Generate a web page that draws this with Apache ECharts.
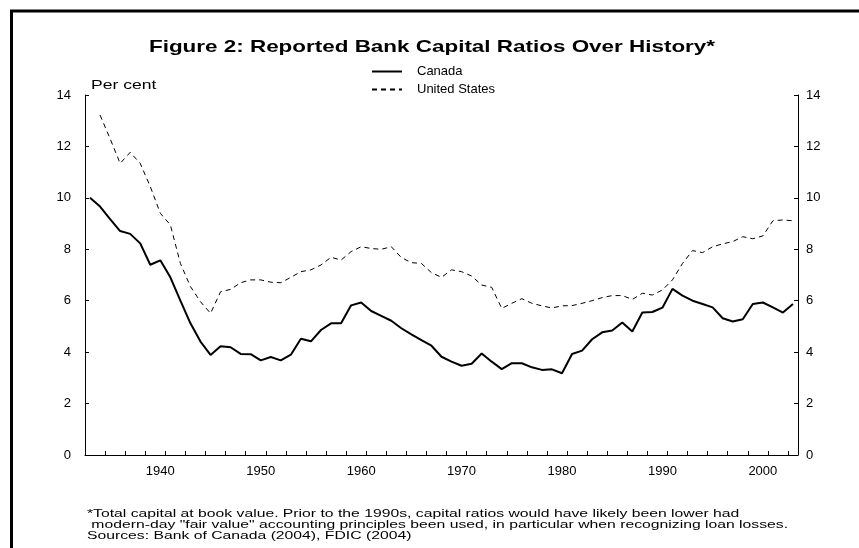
<!DOCTYPE html>
<html>
<head>
<meta charset="utf-8">
<script src="https://cdn.jsdelivr.net/npm/echarts@6/dist/echarts.min.js"></script>
<style>
html,body{margin:0;padding:0;background:#fff;}
#chart{width:859px;height:548px;}
</style>
</head>
<body>
<div id="chart"></div>
<script>
const years = [];
for (let y = 1933; y <= 2003; y++) years.push(String(y));

const canada = [
  10.0, 9.66, 9.17, 8.71, 8.60, 8.23, 7.40, 7.57, 6.91, 6.00,
  5.12, 4.41, 3.89, 4.23, 4.19, 3.93, 3.92, 3.68, 3.81, 3.68,
  3.90, 4.52, 4.42, 4.86, 5.12, 5.12, 5.82, 5.93, 5.60, 5.41,
  5.22, 4.93, 4.69, 4.47, 4.25, 3.82, 3.63, 3.47, 3.55, 3.95,
  3.63, 3.34, 3.57, 3.57, 3.41, 3.31, 3.33, 3.18, 3.93, 4.06,
  4.50, 4.77, 4.84, 5.15, 4.80, 5.54, 5.56, 5.73, 6.46, 6.20,
  6.00, 5.87, 5.74, 5.32, 5.19, 5.28, 5.87, 5.93, 5.74, 5.54,
  5.87
];

const unitedStates = [
  null, 13.22, 12.30, 11.34, 11.77, 11.34, 10.44, 9.40, 8.95, 7.45,
  6.55, 5.96, 5.51, 6.35, 6.44, 6.70, 6.81, 6.81, 6.72, 6.70,
  6.91, 7.13, 7.20, 7.39, 7.69, 7.58, 7.91, 8.10, 8.03, 8.00,
  8.10, 7.68, 7.48, 7.45, 7.09, 6.91, 7.20, 7.13, 6.96, 6.61,
  6.52, 5.70, 5.90, 6.08, 5.90, 5.80, 5.72, 5.80, 5.81, 5.90,
  6.00, 6.12, 6.20, 6.20, 6.05, 6.29, 6.22, 6.42, 6.81, 7.45,
  7.95, 7.87, 8.10, 8.21, 8.30, 8.49, 8.41, 8.52, 9.11, 9.14,
  9.11
];

const titleText = 'Figure 2: Reported Bank Capital Ratios Over History*';
const unitText = 'Per cent';
const footnoteLines = [
  '*Total capital at book value. Prior to the 1990s, capital ratios would have likely been lower had',
  ' modern-day "fair value" accounting principles been used, in particular when recognizing loan losses.',
  'Sources: Bank of Canada (2004), FDIC (2004)'
];

const FONT = 'Arial, "Liberation Sans", Helvetica, sans-serif';
const chart = echarts.init(document.getElementById('chart'), null, {renderer: 'canvas'});

const yAxisBase = {
  type: 'value', min: 0, max: 14, interval: 2,
  axisLine: {show: true, lineStyle: {color: '#000', width: 1}},
  axisTick: {show: true, inside: true, length: 4, lineStyle: {color: '#000'}},
  axisLabel: {color: '#000', fontSize: 13, fontFamily: FONT, margin: 14},
  splitLine: {show: false}
};

chart.setOption({
  backgroundColor: '#fff',
  animation: false,
  legend: {
    orient: 'vertical', left: 366, top: 60, itemWidth: 30, itemHeight: 10, itemGap: 5,
    itemStyle: {opacity: 0},
    textStyle: {color: '#000', fontSize: 13, fontFamily: FONT, padding: [0, 0, 0, 10]},
    data: ['Canada', 'United States']
  },
  grid: {left: 85, right: 61, top: 95, bottom: 93, containLabel: false},
  xAxis: {
    type: 'category', data: years, boundaryGap: true,
    axisLine: {show: true, lineStyle: {color: '#000', width: 1}},
    axisTick: {show: true, inside: true, length: 4, interval: 1, lineStyle: {color: '#000'}},
    axisLabel: {
      color: '#000', fontSize: 13, fontFamily: FONT, margin: 10,
      interval: function (idx, val) { return Number(val) % 10 === 0; }
    },
    splitLine: {show: false}
  },
  yAxis: [
    Object.assign({}, yAxisBase, {position: 'left'}),
    Object.assign({}, yAxisBase, {position: 'right', axisLabel: Object.assign({}, yAxisBase.axisLabel, {margin: 8})})
  ],
  series: [
    {
      name: 'Canada', type: 'line', data: canada, showSymbol: false, symbol: 'none',
      lineStyle: {color: '#000', width: 2, type: 'solid'}, itemStyle: {color: '#000'}
    },
    {
      name: 'United States', type: 'line', data: unitedStates, showSymbol: false, symbol: 'none',
      lineStyle: {color: '#000', width: 1, type: [5, 4]}, itemStyle: {color: '#000'}
    }
  ],
  graphic: [
    {
      type: 'rect', shape: {x: 11.5, y: 11, width: 900, height: 600},
      style: {fill: null, stroke: '#000', lineWidth: 3}, silent: true
    },
    {
      type: 'text', x: 432, y: 47, scaleX: 1.32,
      style: {text: titleText, fill: '#000', font: 'bold 17px ' + FONT, textAlign: 'center', textVerticalAlign: 'middle'}
    },
    {
      type: 'text', x: 91, y: 85, scaleX: 1.35,
      style: {text: unitText, fill: '#000', font: '13px ' + FONT, textAlign: 'left', textVerticalAlign: 'middle'}
    },
    {
      type: 'text', x: 87, y: 508, scaleX: 1.43,
      style: {text: footnoteLines.join('\n'), fill: '#000', font: '11px ' + FONT, lineHeight: 11, textAlign: 'left', textVerticalAlign: 'top'}
    }
  ]
});
</script>
</body>
</html>
